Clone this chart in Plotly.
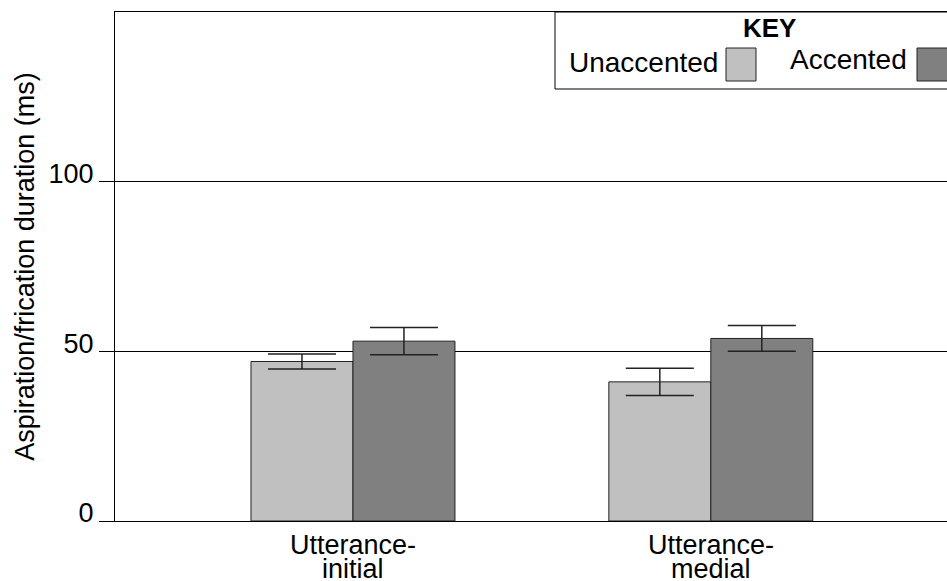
import plotly.graph_objects as go

category_lines = [["Utterance-", "initial"], ["Utterance-", "medial"]]
categories = ["".join(c) for c in category_lines]
unaccented = [47, 41]
unaccented_err = [2.2, 4.0]
accented = [53, 53.8]
accented_err = [4.0, 3.8]
y_ticks = [0, 50, 100]

W, H = 947, 581
ML, MR, MT, MB = 115, 0, 12, 60
PW, PH = W - ML - MR, H - MT - MB

def px(x):
    return (x - ML) / PW

def py(y):
    return (H - MB - y) / PH

FONT = "Liberation Sans, Arial, sans-serif"
FS = 27

fig = go.Figure()
fig.add_trace(go.Bar(
    x=categories, y=unaccented, name="Unaccented",
    marker=dict(color="#c0c0c0", line=dict(color="#222222", width=1)),
    error_y=dict(type="data", array=unaccented_err, color="#222222", thickness=1.5, width=34),
))
fig.add_trace(go.Bar(
    x=categories, y=accented, name="Accented",
    marker=dict(color="#808080", line=dict(color="#222222", width=1)),
    error_y=dict(type="data", array=accented_err, color="#222222", thickness=1.5, width=34),
))

shapes = [
    dict(type="rect", xref="paper", yref="paper", x0=px(555), x1=1.02, y0=py(89), y1=1.0,
         line=dict(color="black", width=1), fillcolor="white", layer="above"),
    dict(type="rect", xref="paper", yref="paper", x0=px(726), x1=px(756), y0=py(81), y1=py(48),
         line=dict(color="#222222", width=1), fillcolor="#c0c0c0", layer="above"),
    dict(type="rect", xref="paper", yref="paper", x0=px(917), x1=1.05, y0=py(81), y1=py(48),
         line=dict(color="#222222", width=1), fillcolor="#808080", layer="above"),
]
annotations = [
    dict(text="<b>KEY</b>", xref="paper", yref="paper", x=px(769), y=py(28),
         showarrow=False, xanchor="center", yanchor="middle", font=dict(size=26, color="black", family=FONT)),
    dict(text="Unaccented", xref="paper", yref="paper", x=px(720), y=py(62),
         showarrow=False, xanchor="right", yanchor="middle", font=dict(size=28, color="black", family=FONT)),
    dict(text="Accented", xref="paper", yref="paper", x=px(909), y=py(60),
         showarrow=False, xanchor="right", yanchor="middle", font=dict(size=28, color="black", family=FONT)),
]
for i, lines in enumerate(category_lines):
    for j, (txt, yc) in enumerate(zip(lines, [545, 569])):
        annotations.append(dict(text=txt, xref="x", yref="paper", x=i, y=py(yc),
                                showarrow=False, xanchor="center", yanchor="middle",
                                font=dict(size=FS, color="black", family=FONT)))

fig.update_layout(
    width=W, height=H,
    margin=dict(l=ML, r=MR, t=MT, b=MB, pad=0),
    paper_bgcolor="white", plot_bgcolor="white",
    barmode="group", bargap=0.43, bargroupgap=0,
    showlegend=False,
    font=dict(family=FONT, size=FS, color="black"),
    shapes=shapes, annotations=annotations,
    xaxis=dict(range=[-0.665, 1.66], showline=True, linecolor="black", linewidth=1, mirror=True,
               ticks="", showgrid=False, showticklabels=False, automargin=False),
    yaxis=dict(range=[0, 150], tickvals=y_ticks, showline=True, linecolor="black", linewidth=1,
               ticks="outside", ticklen=15, tickcolor="black", showgrid=True, gridcolor="black",
               gridwidth=1, zeroline=False, tickfont=dict(size=FS, color="black"),
               ticklabelshift=-8, automargin=False,
               title=dict(text="Aspiration/frication duration (ms)", font=dict(size=FS, color="black"),
                          standoff=6)),
)

fig.write_html("out.html", config={"displayModeBar": False},
               post_script="document.body.style.margin='0';document.body.style.overflow='hidden';")
